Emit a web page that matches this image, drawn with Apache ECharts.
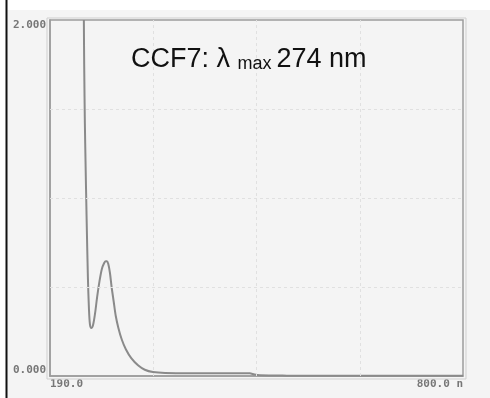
<!DOCTYPE html>
<html><head><meta charset="utf-8">
<script src="https://cdn.jsdelivr.net/npm/echarts@6/dist/echarts.min.js"></script>
<style>html,body{margin:0;padding:0;background:#fff}#c{width:490px;height:398px}</style>
</head><body><div id="c"></div>
<script>
// Wavelength (nm) and absorbance
const wavelength = [240, 240.5, 241.5, 242.5, 244, 246, 247.5, 249, 251, 253.5, 256.5, 259.5, 263, 266.5, 270, 272.5, 274, 276, 278.5, 281, 284, 287, 291, 296, 302, 310, 320, 330, 342, 360, 400, 450, 485, 492, 500, 540, 600, 700, 800];
const absorbance = [2.0, 1.75, 1.42, 1.2, 0.9, 0.55, 0.38, 0.29, 0.27, 0.285, 0.35, 0.44, 0.53, 0.6, 0.635, 0.645, 0.645, 0.63, 0.58, 0.5, 0.42, 0.34, 0.27, 0.205, 0.15, 0.1, 0.06, 0.035, 0.022, 0.017, 0.016, 0.016, 0.015, 0.008, 0.004, 0.002, 0.001, 0.001, 0.001];
const xTicks = [190, 800];
const xTickLabels = ['190.0', '800.0 n'];
const yTicks = [0, 2];
const yTickLabels = ['0.000', '2.000'];
const xGrid = [342.5, 495, 647.5];
const yGrid = [0.5, 1.0, 1.5];
const titleMain = 'CCF7: λ ';
const titleSub = 'max';
const titleValue = '274 nm';

const chart = echarts.init(document.getElementById('c'));
const lineData = wavelength.map((w, i) => [w, absorbance[i]]);
const labelFont = {fontFamily: 'DejaVu Sans Mono', fontWeight: 'bold', fontSize: 11, color: '#777777'};
chart.setOption({
  animation: false,
  backgroundColor: '#ffffff',
  graphic: [
    {type: 'rect', z: -10, shape: {x: 7, y: 10, width: 483, height: 388}, style: {fill: '#f4f4f4'}},
    {type: 'line', z: 10, shape: {x1: 6.5, y1: 0, x2: 6.5, y2: 398}, style: {stroke: '#111', lineWidth: 2}},
    {type: 'rect', z: 5, shape: {x: 47, y: 18, width: 419, height: 361}, style: {fill: 'none', stroke: '#cfcfcf', lineWidth: 1}},
    {type: 'text', z: 20, left: 131, top: 46, style: {
      text: '{a|' + titleMain + '}{b|' + titleSub + '}{c|' + titleValue + '}',
      rich: {
        a: {fontFamily: 'Liberation Sans', fontSize: 27, fill: '#111', lineHeight: 32, verticalAlign: 'bottom'},
        b: {fontFamily: 'Liberation Sans', fontSize: 18, fill: '#111', lineHeight: 32, verticalAlign: 'bottom', padding: [0, 5, 0, 0]},
        c: {fontFamily: 'Liberation Sans', fontSize: 27, fill: '#111', lineHeight: 32, verticalAlign: 'bottom'}
      }
    }}
  ],
  grid: {left: 50, right: 27, top: 20, bottom: 22, show: true, borderColor: '#9c9c9c', borderWidth: 1.5, backgroundColor: 'transparent'},
  xAxis: {
    type: 'value', min: 190, max: 800,
    axisLine: {show: true, lineStyle: {color: '#9c9c9c', width: 1.5}},
    axisTick: {show: false},
    splitLine: {show: false},
    axisLabel: Object.assign({customValues: xTicks, margin: 3,
      formatter: v => xTickLabels[xTicks.indexOf(v)],
      alignMinLabel: 'left', alignMaxLabel: 'right'}, labelFont)
  },
  yAxis: {
    type: 'value', min: 0, max: 2,
    axisLine: {show: true, lineStyle: {color: '#9c9c9c', width: 1.5}},
    axisTick: {show: false},
    splitLine: {show: false},
    axisLabel: Object.assign({customValues: yTicks, margin: 4,
      formatter: v => yTickLabels[yTicks.indexOf(v)],
      verticalAlignMinLabel: 'bottom', verticalAlignMaxLabel: 'top'}, labelFont)
  },
  series: [{
    type: 'line', data: lineData, showSymbol: false, smooth: 0.3, clip: true,
    lineStyle: {color: '#8a8a8a', width: 2},
    markLine: {
      silent: true, symbol: 'none', label: {show: false},
      lineStyle: {color: '#e0e0e0', type: [3, 3], width: 1},
      data: xGrid.map(v => ({xAxis: v})).concat(yGrid.map(v => ({yAxis: v})))
    }
  }]
});
</script></body></html>
